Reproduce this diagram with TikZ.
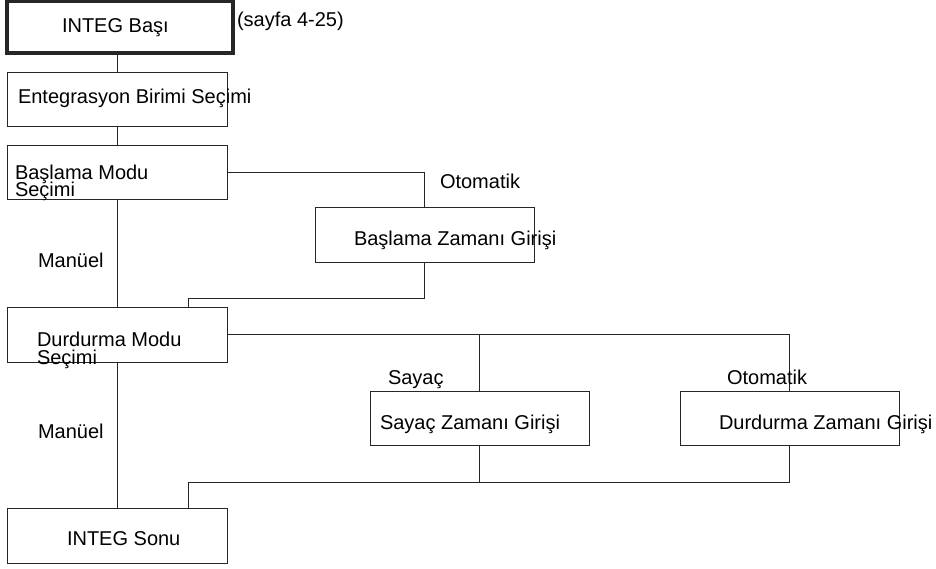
\documentclass[tikz,border=0pt]{standalone}
\usepackage{fontspec}
\setmainfont{Liberation Sans}
\begin{document}
\begin{tikzpicture}[x=1pt,y=-1pt,
  box/.style={draw=black!85, line width=1pt, inner sep=0pt, outer sep=0pt, anchor=north west},
  thickbox/.style={box, line width=3.5pt},
  txt/.style={inner sep=0pt, outer sep=0pt, anchor=base west, font=\fontsize{20}{22}\selectfont},
  conn/.style={draw=black!85, line width=1pt}]
\useasboundingbox (0,0) rectangle (936,569);
% boxes
\node[thickbox, minimum width=226pt, minimum height=51.5pt] (b1) at (7,1.75) {};
\node[box, minimum width=220pt, minimum height=54pt] (b2) at (7,73) {};
\node[box, minimum width=220pt, minimum height=54pt] (b3) at (7,146) {};
\node[box, minimum width=219pt, minimum height=54pt] (bz) at (315,208) {};
\node[box, minimum width=220pt, minimum height=55pt] (b4) at (7,307) {};
\node[box, minimum width=219pt, minimum height=54pt] (bs) at (370,391) {};
\node[box, minimum width=219pt, minimum height=54pt] (bd) at (680,391) {};
\node[box, minimum width=220pt, minimum height=55pt] (b5) at (7,508) {};
% junction points
\coordinate (j1) at (188,298);
\coordinate (j2) at (188,482);
% connectors
\draw[conn] (b2.north |- b1.south) -- (b2.north);
\draw[conn] (b2.south) -- (b3.north);
\draw[conn] (b3.east) -- (b3.east -| bz.north) -- (bz.north);
\draw[conn] (bz.south) -- (bz.south |- j1) -- (j1) -- (j1 |- b4.north);
\draw[conn] (b3.south) -- (b4.north);
\draw[conn] (b4.east) -- (b4.east -| bd.north) -- (bd.north);
\draw[conn] (bs.north |- b4.east) -- (bs.north);
\draw[conn] (bs.south) -- (bs.south |- j2);
\draw[conn] (bd.south) -- (bd.south |- j2) -- (j2) -- (j2 |- b5.north);
\draw[conn] (b4.south) -- (b5.north);
% texts
\node[txt] (t1) at (62,33) {INTEG Başı};
\node[txt] (t1b) at (237,27) {(sayfa 4-25)};
\node[txt] (t2) at (18,104) {Entegrasyon Birimi Seçimi};
\node[txt] (t3a) at (15,179.5) {Başlama Modu};
\node[txt] (t3b) at (15,197) {Seçimi};
\node[txt] (lo1) at (440,189) {Otomatik};
\node[txt] (tz) at (354,245) {Başlama Zamanı Girişi};
\node[txt] (lm1) at (38,267) {Manüel};
\node[txt] (t4a) at (37,346) {Durdurma Modu};
\node[txt] (t4b) at (37,364) {Seçimi};
\node[txt] (ls) at (388,384) {Sayaç};
\node[txt] (lo2) at (727,384) {Otomatik};
\node[txt] (ts) at (380,429) {Sayaç Zamanı Girişi};
\node[txt] (td) at (719,429) {Durdurma Zamanı Girişi};
\node[txt] (lm2) at (38,438) {Manüel};
\node[txt] (t5) at (67,545) {INTEG Sonu};
\end{tikzpicture}
\end{document}
